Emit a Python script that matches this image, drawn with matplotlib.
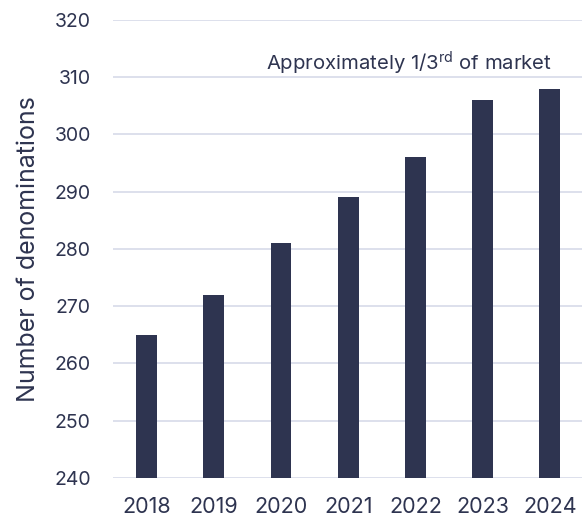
import matplotlib
matplotlib.use('Agg')
import matplotlib.pyplot as plt

# data
years  = ['2018', '2019', '2020', '2021', '2022', '2023', '2024']
counts = [265, 272, 281, 289, 296, 306, 308]
yticks = [240, 250, 260, 270, 280, 290, 300, 310, 320]
note   = r'Approximately 1/3$^{\mathrm{rd}}$ of market'

navy = '#2e3450'
grid = '#dde0ec'

plt.rcParams['font.family'] = ['Inter', 'DejaVu Sans']
plt.rcParams['mathtext.fontset'] = 'custom'
plt.rcParams['mathtext.rm'] = 'Inter'

fig = plt.figure(figsize=(5.82, 5.2), dpi=100)
ax = fig.add_axes([113/582, 1-478/520, 1-113/582, (478-20)/520])

x = range(len(years))
ax.bar(x, counts, width=0.31, color=navy, zorder=3)

ax.set_ylim(240, 320)
ax.set_xlim(-0.5, 6.48)
ax.set_yticks(yticks)
ax.set_xticks(list(x))
ax.set_xticklabels(years)
ax.yaxis.grid(True, color=grid, linewidth=1.4, zorder=0)
ax.tick_params(axis='y', length=0, pad=16, labelsize=14, labelcolor=navy)
ax.tick_params(axis='x', length=0, pad=14, labelsize=15.5, labelcolor=navy)
for s in ax.spines.values():
    s.set_visible(False)

ax.set_ylabel('Number of denominations', fontsize=18, color=navy, labelpad=10)

ax.text(6.03, 311.3, note, ha='right', va='baseline', fontsize=14.6, color=navy)

fig.savefig('out.png', dpi=100)
